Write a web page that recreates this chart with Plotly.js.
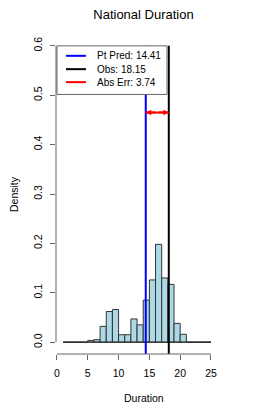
<!DOCTYPE html>
<html>
<head>
<meta charset="utf-8">
<script src="https://cdn.plot.ly/plotly-3.0.1.min.js"></script>
<style>html,body{margin:0;padding:0;background:#fff;}#chart{width:274px;height:411px;}</style>
</head>
<body>
<div id="chart"></div>
<script>
// Histogram bin left edges (width 1) and densities
const binStarts = [1,2,3,4,5,6,7,8,9,10,11,12,13,14,15,16,17,18,19,20,21,22,23,24];
const densities = [0,0,0,0,0.0035,0.005,0.032,0.062,0.066,0.015,0.015,0.047,0.035,0.085,0.126,0.198,0.130,0.117,0.038,0.016,0,0,0,0];
const binWidth = 1;
const ptPred = 14.41;
const observed = 18.15;
const absErr = 3.74;
const arrowLevel = 0.465;
const lineTop = 0.6;
const xTicks = [0,5,10,15,20,25];
const yTicks = [0,0.1,0.2,0.3,0.4,0.5,0.6];
const yTickText = ['0.0','0.1','0.2','0.3','0.4','0.5','0.6'];

const FONT = 'Liberation Sans, Arial, Helvetica, sans-serif';
const centers = binStarts.map(s => s + binWidth/2);
const binLo = binStarts[0];
const binHi = binStarts[binStarts.length-1] + binWidth;

const traces = [
  { type:'scatter', mode:'lines', x:[binLo, binHi], y:[0,0],
    line:{color:'#222', width:1}, hoverinfo:'skip', showlegend:false },
  { type:'bar', x:centers, y:densities, width:binWidth,
    marker:{color:'#ADD8E6', line:{color:'#333', width:1}}, showlegend:false },
  { type:'scatter', mode:'lines', x:[ptPred, ptPred], y:[-0.05, lineTop],
    line:{color:'#0000FF', width:2}, showlegend:false },
  { type:'scatter', mode:'lines', x:[observed, observed], y:[-0.05, lineTop],
    line:{color:'#000000', width:2}, showlegend:false },
  { type:'scatter', mode:'lines', x:[ptPred, observed], y:[arrowLevel, arrowLevel],
    line:{color:'#FF0000', width:2}, showlegend:false }
];

const mid = (ptPred + observed)/2;
const legItems = [
  {text:'Pt Pred: ' + ptPred.toFixed(2), color:'#0000FF', y:0.5798},
  {text:'Obs: ' + observed.toFixed(2), color:'#000000', y:0.5528},
  {text:'Abs Err: ' + absErr.toFixed(2), color:'#FF0000', y:0.5265}
];

const shapes = [
  {type:'line', xref:'x', yref:'paper', x0:xTicks[0], x1:xTicks[xTicks.length-1], y0:0, y1:0,
   line:{color:'#666', width:1}},
  {type:'line', xref:'paper', yref:'y', x0:0, x1:0, y0:yTicks[0], y1:yTicks[yTicks.length-1],
   line:{color:'#666', width:1}},
  {type:'rect', xref:'x', yref:'y', x0:0, x1:17.86, y0:0.5016, y1:0.6,
   fillcolor:'#fff', line:{color:'#666', width:1}, layer:'above'}
];
legItems.forEach(it => shapes.push({type:'line', xref:'x', yref:'y', x0:1.46, x1:4.7, y0:it.y, y1:it.y,
   line:{color:it.color, width:2}, layer:'above'}));

const annotations = [
  {xref:'x', yref:'y', x:ptPred, y:arrowLevel, ax:mid, ay:arrowLevel, axref:'x', ayref:'y',
   showarrow:true, arrowhead:2, arrowsize:0.55, arrowwidth:2, arrowcolor:'#FF0000', text:''},
  {xref:'x', yref:'y', x:observed, y:arrowLevel, ax:mid, ay:arrowLevel, axref:'x', ayref:'y',
   showarrow:true, arrowhead:2, arrowsize:0.55, arrowwidth:2, arrowcolor:'#FF0000', text:''},
  {xref:'paper', yref:'paper', x:0.5, y:0, yshift:-44, xanchor:'center', yanchor:'middle',
   showarrow:false, text:'Duration', font:{family:FONT, size:10.5, color:'#000'}},
  {xref:'paper', yref:'paper', x:0, y:0.5, xshift:-42, xanchor:'center', yanchor:'middle',
   textangle:-90, showarrow:false, text:'Density', font:{family:FONT, size:10.5, color:'#000'}}
];
legItems.forEach(it => annotations.push({xref:'x', yref:'y', x:6.1, y:it.y, xanchor:'left', yanchor:'middle',
   showarrow:false, text:it.text, font:{family:FONT, size:10, color:'#000'}}));

const layout = {
  width:274, height:411,
  margin:{l:56, r:43, t:34, b:57, pad:0},
  paper_bgcolor:'#fff', plot_bgcolor:'#fff',
  font:{family:FONT, size:10.5, color:'#000'},
  title:{text:'National Duration', x:0.5, xref:'paper', xanchor:'center',
         y:1-14/411, yref:'container', yanchor:'middle', font:{family:FONT, size:13, color:'#000'}},
  showlegend:false,
  bargap:0,
  xaxis:{range:[-0.16, 28.25], showgrid:false, zeroline:false, showline:false,
         tickmode:'array', tickvals:xTicks, ticks:'outside', ticklen:5, tickcolor:'#666', tickwidth:1,
         ticklabelstandoff:4, tickfont:{family:FONT, size:10.5, color:'#000'}},
  yaxis:{range:[-0.024, 0.624], showgrid:false, zeroline:false, showline:false,
         tickmode:'array', tickvals:yTicks, ticktext:yTickText, ticks:'outside', ticklen:5,
         tickcolor:'#666', tickwidth:1, tickangle:-90, ticklabelstandoff:4,
         tickfont:{family:FONT, size:10.5, color:'#000'}},
  shapes:shapes,
  annotations:annotations
};

Plotly.newPlot('chart', traces, layout, {displayModeBar:false, staticPlot:true});
</script>
</body>
</html>
